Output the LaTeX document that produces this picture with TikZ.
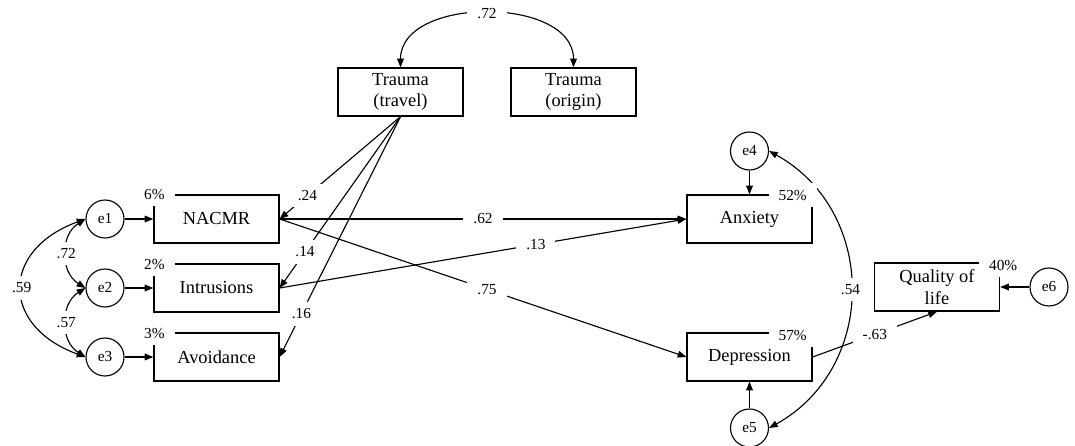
\documentclass[tikz,border=0pt]{standalone}
\usepackage{fontspec}
\setmainfont{Liberation Serif}
\usepackage{tikz}
\usetikzlibrary{arrows.meta,calc}
\tikzset{
  >={Triangle[length=6.5pt,width=5pt]},
  var/.style={draw,line width=0.95pt,minimum width=93.75pt,minimum height=36pt,inner sep=1pt,align=center,font=\rmfamily\fontsize{13.8}{16}\selectfont},
  err/.style={draw,circle,line width=0.85pt,minimum size=28.5pt,inner sep=0pt,font=\rmfamily\fontsize{11.5}{13}\selectfont},
  lbl/.style={fill=white,inner xsep=7.5pt,inner ysep=5pt,font=\rmfamily\fontsize{11.5}{13}\selectfont},
  ptr/.style={->,line width=0.85pt},
  cov/.style={<->,line width=0.85pt},
}
\newcommand{\errv}[3]{\node[err] (#1) at (#2) {#1};\draw[ptr] (#1) -- (#3);}
\newcommand{\rsq}[3]{\node[lbl] at ($(#1)+(#2)$) {#3\%};}

\begin{document}
\begin{tikzpicture}[x=0.75pt,y=0.75pt]
  \useasboundingbox (0,0) rectangle (1075,446);
  \node[var] (travel) at (400.5,354) {Trauma\\(travel)};
  \node[var] (origin) at (573.5,354) {Trauma\\(origin)};
  \node[var] (nacmr) at (216.5,227) {NACMR};
  \node[var] (intr) at (216.5,158) {Intrusions};
  \node[var] (avoid) at (216.5,89) {Avoidance};
  \node[var] (anx) at (749.5,227) {Anxiety};
  \node[var] (dep) at (749.5,89) {Depression};
  \node[var] (qol) at (937,159) {Quality of\\life};
  \errv{e1}{105,227}{nacmr}
  \errv{e2}{105,158}{intr}
  \errv{e3}{105,89}{avoid}
  \errv{e4}{749.5,295}{anx}
  \errv{e5}{749.5,18}{dep}
  \errv{e6}{1049,159}{qol}
  \draw[ptr] (travel.south) -- node[lbl,pos=0.77] {.24} (nacmr.east);
  \draw[ptr] (travel.south) -- node[lbl,pos=0.79] {.14} (intr.east);
  \draw[ptr] (travel.south) -- node[lbl,pos=0.82] {.16} (avoid.east);
  \draw[ptr] (nacmr.east) -- node[lbl] {.62} (anx.west);
  \draw[ptr] (intr.east) -- node[lbl,pos=0.63] {.13} (anx.west);
  \draw[ptr] (nacmr.east) -- node[lbl,pos=0.51] {.75} (dep.west);
  \draw[ptr] (dep.east) -- node[lbl] {-.63} (qol.south);
  \draw[cov] (e1.west) to[bend right=58,looseness=1.12] node[lbl] {.72} (e2.west);
  \draw[cov] (e2.west) to[bend right=58,looseness=1.12] node[lbl] {.57} (e3.west);
  \draw[cov] (e1.west) to[bend right=70,looseness=1.68] node[lbl] {.59} (e3.west);
  \draw[cov] (travel.north) to[out=90,in=90,looseness=1.06] node[lbl] {.72} (origin.north);
  \draw[cov] (e4.east) to[bend left=61,looseness=1.15] node[lbl] {.54} (e5.east);
  \rsq{nacmr.north west}{1,0}{6}
  \rsq{intr.north west}{1,-1}{2}
  \rsq{avoid.north west}{1,-1}{3}
  \rsq{anx.north east}{-20,-1}{52}
  \rsq{dep.north east}{-20,-3}{57}
  \rsq{qol.north east}{3,-3}{40}
\end{tikzpicture}
\end{document}
